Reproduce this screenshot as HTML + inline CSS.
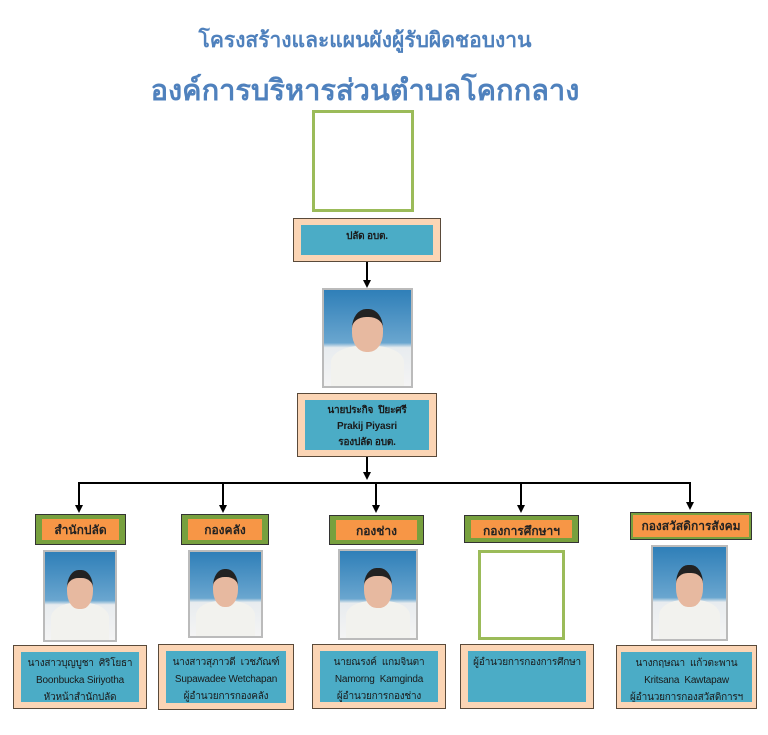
<!DOCTYPE html>
<html><head><meta charset="utf-8"><style>
body{margin:0;width:768px;height:735px;background:#fff;position:relative;overflow:hidden;font-family:"Liberation Sans",sans-serif}
.a{position:absolute;box-sizing:border-box}
.t{color:#4f81bd;text-align:center;width:768px;left:-19px;font-weight:bold}
.ob{background:#fbd5b5;border:1.5px solid #5a4a3a}
.ib{position:absolute;background:#4bacc6;left:7px;right:7px;top:6px;bottom:6px;color:#1a1a1a;font-size:10px;text-align:center;line-height:17px;padding-top:3px;white-space:nowrap;overflow:hidden;letter-spacing:-0.2px}
.hd{background:#77a03e;border:1.5px solid #333}
.hi{position:absolute;background:#f79646;left:6px;right:6px;top:4px;bottom:4px;font-size:12px;font-weight:bold;text-align:center;line-height:22px;color:#222;white-space:nowrap}
.ph{border:2px solid #bbb;background:linear-gradient(#2f7fb8,#6aa6cf 55%,#e8ecef 60%,#f4f4f4);overflow:hidden}
.ph .f{position:absolute;left:32%;width:36%;top:20%;height:36%;border-radius:45%;background:#e7b9a0;border-top:8px solid #222}
.ph .b{position:absolute;left:8%;right:8%;bottom:0;height:42%;background:#f2f2ee;border-radius:40% 40% 0 0}
.ln{position:absolute;background:#000}
.ar{position:absolute;width:0;height:0;border-left:4px solid transparent;border-right:4px solid transparent;border-top:8px solid #000}
</style></head><body>
<div class="a t" style="top:24px;font-size:21px">โครงสร้างและแผนผังผู้รับผิดชอบงาน</div>
<div class="a t" style="top:67px;font-size:29px">องค์การบริหารส่วนตำบลโคกกลาง</div>

<div class="a" style="left:312px;top:110px;width:102px;height:102px;border:3px solid #9bbb59"></div>
<div class="a ob" style="left:293px;top:218px;width:148px;height:44px"><div class="ib" style="font-weight:bold">ปลัด อบต.</div></div>
<div class="ln" style="left:366px;top:262px;width:1.5px;height:20px"></div><div class="ar" style="left:363px;top:280px"></div>
<div class="a ph" style="left:322px;top:288px;width:91px;height:100px"><div class="b"></div><div class="f"></div></div>
<div class="a ob" style="left:297px;top:393px;width:140px;height:64px"><div class="ib" style="font-weight:bold;line-height:16px">นายประกิจ&nbsp; ปิยะศรี<br>Prakij Piyasri<br>รองปลัด อบต.</div></div>
<div class="ln" style="left:366px;top:457px;width:1.5px;height:17px"></div><div class="ar" style="left:363px;top:472px"></div>
<div class="ln" style="left:78px;top:482px;width:612px;height:1.5px"></div>

<div class="ln" style="left:78px;top:482px;width:1.5px;height:24px"></div><div class="ar" style="left:75px;top:505px"></div>
<div class="ln" style="left:222px;top:482px;width:1.5px;height:24px"></div><div class="ar" style="left:219px;top:505px"></div>
<div class="ln" style="left:375px;top:482px;width:1.5px;height:24px"></div><div class="ar" style="left:372px;top:505px"></div>
<div class="ln" style="left:520px;top:482px;width:1.5px;height:24px"></div><div class="ar" style="left:517px;top:505px"></div>
<div class="ln" style="left:689px;top:482px;width:1.5px;height:22px"></div><div class="ar" style="left:686px;top:502px"></div>

<div class="a hd" style="left:35px;top:514px;width:91px;height:31px"><div class="hi">สำนักปลัด</div></div>
<div class="a hd" style="left:181px;top:514px;width:88px;height:31px"><div class="hi">กองคลัง</div></div>
<div class="a hd" style="left:329px;top:515px;width:95px;height:30px"><div class="hi">กองช่าง</div></div>
<div class="a hd" style="left:464px;top:515px;width:115px;height:28px"><div class="hi">กองการศึกษาฯ</div></div>
<div class="a hd" style="left:630px;top:512px;width:122px;height:28px"><div class="hi" style="top:2px;bottom:2px;left:2px;right:2px">กองสวัสดิการสังคม</div></div>

<div class="a ph" style="left:43px;top:550px;width:74px;height:92px"><div class="b"></div><div class="f"></div></div>
<div class="a ph" style="left:188px;top:550px;width:75px;height:88px"><div class="b"></div><div class="f"></div></div>
<div class="a ph" style="left:338px;top:549px;width:80px;height:91px"><div class="b"></div><div class="f"></div></div>
<div class="a" style="left:478px;top:550px;width:87px;height:90px;border:3px solid #9bbb59"></div>
<div class="a ph" style="left:651px;top:545px;width:77px;height:96px"><div class="b"></div><div class="f"></div></div>

<div class="a ob" style="left:13px;top:645px;width:134px;height:64px"><div class="ib">นางสาวบุญบูชา&nbsp; ศิริโยธา<br>Boonbucka Siriyotha<br>หัวหน้าสำนักปลัด</div></div>
<div class="a ob" style="left:158px;top:644px;width:136px;height:66px"><div class="ib">นางสาวสุภาวดี&nbsp; เวชภัณฑ์<br>Supawadee Wetchapan<br>ผู้อำนวยการกองคลัง</div></div>
<div class="a ob" style="left:312px;top:644px;width:134px;height:65px"><div class="ib">นายณรงค์&nbsp; แกมจินตา<br>Namorng&nbsp; Kamginda<br>ผู้อำนวยการกองช่าง</div></div>
<div class="a ob" style="left:460px;top:644px;width:134px;height:65px"><div class="ib">ผู้อำนวยการกองการศึกษา</div></div>
<div class="a ob" style="left:616px;top:645px;width:141px;height:64px"><div class="ib" style="left:4px;right:4px">นางกฤษณา&nbsp; แก้วตะพาน<br>Kritsana&nbsp; Kawtapaw<br>ผู้อำนวยการกองสวัสดิการฯ</div></div>
</body></html>
